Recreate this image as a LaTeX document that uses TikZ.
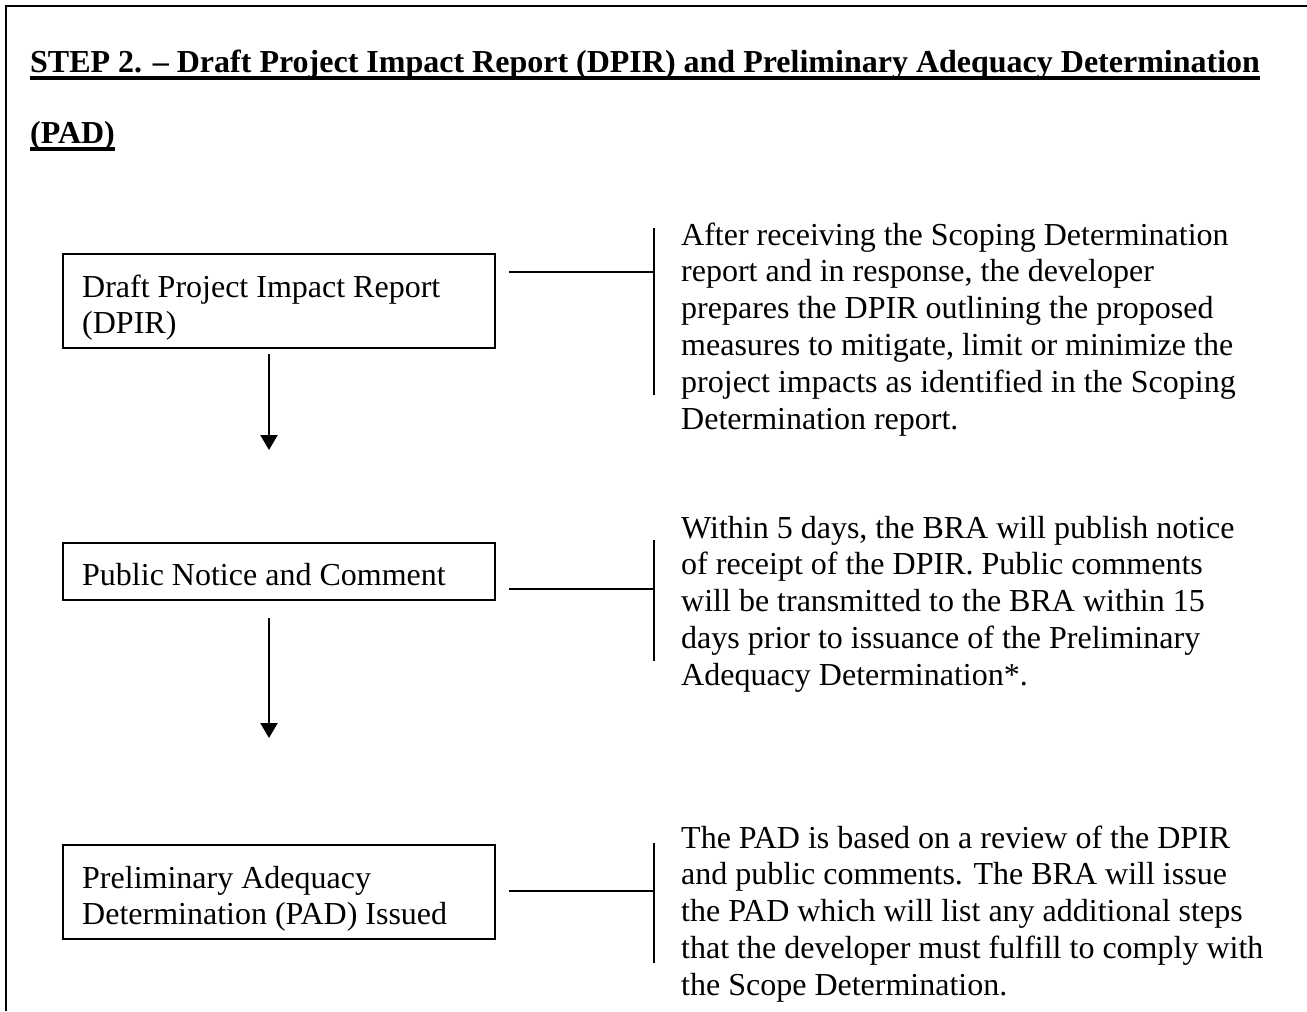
\documentclass[tikz,border=0pt]{standalone}
\usepackage{fontspec}
\setmainfont{Liberation Serif}
\usetikzlibrary{arrows.meta}

\begin{document}
\begin{tikzpicture}[x=1bp,y=-1bp,
  frameline/.style={line width=2.6bp},
  stepbox/.style={draw,line width=2bp,rectangle,inner sep=0pt,anchor=north west},
  boxtext/.style={anchor=base west,inner sep=0pt,align=left,
    font=\fontsize{32bp}{36.8bp}\selectfont},
  note/.style={anchor=base west,inner sep=0pt,align=left,
    font=\fontsize{32bp}{36.8bp}\selectfont},
  heading/.style={anchor=base west,inner sep=0pt,
    font=\fontsize{32bp}{36.8bp}\selectfont\bfseries},
  underrule/.style={line width=3.4bp},
  link/.style={line width=2bp},
  flow/.style={line width=2bp,-{Triangle[width=17bp,length=15bp]}}]

\useasboundingbox (0,0) rectangle (1307,1011);

% page frame (top and left edges)
\draw[frameline] (6,1011) -- (6,6) -- (1307,6);

% heading, underlined line by line
\node[heading] (t1) at (30,72) {STEP 2. -- Draft Project Impact Report (DPIR) and Preliminary Adequacy Determination};
\node[heading] (t2) at (30,143) {(PAD)};
\draw[underrule] ([yshift=-6bp]t1.base west) -- ([yshift=-6bp]t1.base east);
\draw[underrule] ([yshift=-6bp]t2.base west) -- ([yshift=-6bp]t2.base east);

% process boxes
\node[stepbox,minimum width=432bp,minimum height=94bp] (b1) at (62,253) {};
\node[stepbox,minimum width=432bp,minimum height=57bp] (b2) at (62,542) {};
\node[stepbox,minimum width=432bp,minimum height=94bp] (b3) at (62,844) {};

% box labels (anchored at the baseline of their last line)
\node[boxtext] (l1) at (82,333.8) {Draft Project Impact Report\\(DPIR)};
\node[boxtext] (l2) at (82,585) {Public Notice and Comment};
\node[boxtext] (l3) at (82,924.8) {Preliminary Adequacy\\Determination (PAD) Issued};

% downward arrows between the boxes
\coordinate (a1s) at (269,354);
\coordinate (a1e) at (269,450);
\coordinate (a2s) at (269,618);
\coordinate (a2e) at (269,738);
\draw[flow] (a1s) -- (a1e);
\draw[flow] (a2s) -- (a2e);

% side brackets leading to the explanations
\coordinate (h1) at (509,272);  \coordinate (j1) at (654,272);
\coordinate (v1a) at (654,228); \coordinate (v1b) at (654,395);
\coordinate (h2) at (509,589);  \coordinate (j2) at (654,589);
\coordinate (v2a) at (654,540); \coordinate (v2b) at (654,661);
\coordinate (h3) at (509,891);  \coordinate (j3) at (654,891);
\coordinate (v3a) at (654,843); \coordinate (v3b) at (654,963);
\draw[link] (h1) -- (j1);
\draw[link] (v1a) -- (v1b);
\draw[link] (h2) -- (j2);
\draw[link] (v2a) -- (v2b);
\draw[link] (h3) -- (j3);
\draw[link] (v3a) -- (v3b);

% explanations (anchored at the baseline of their last line)
\node[note] (n1) at (681,429) {After receiving the Scoping Determination\\
report and in response, the developer\\
prepares the DPIR outlining the proposed\\
measures to mitigate, limit or minimize the\\
project impacts as identified in the Scoping\\
Determination report.};
\node[note] (n2) at (681,685.2) {Within 5 days, the BRA will publish notice\\
of receipt of the DPIR. Public comments\\
will be transmitted to the BRA within 15\\
days prior to issuance of the Preliminary\\
Adequacy Determination*.};
\node[note] (n3) at (681,995.2) {The PAD is based on a review of the DPIR\\
and public comments. The BRA will issue\\
the PAD which will list any additional steps\\
that the developer must fulfill to comply with\\
the Scope Determination.};
\end{tikzpicture}
\end{document}
